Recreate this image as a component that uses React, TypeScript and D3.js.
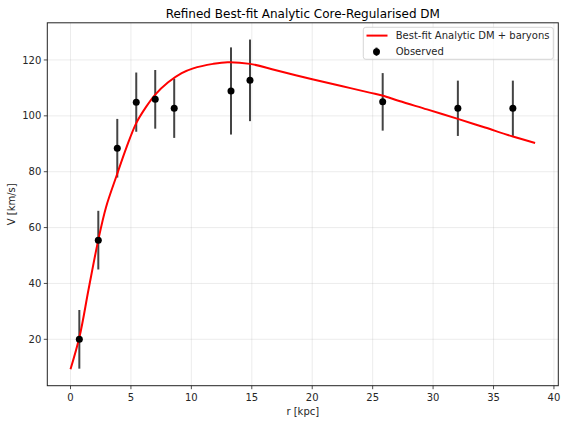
import React from "react";
import * as d3 from "d3";

const obsR = [0.73, 2.3, 3.87, 5.44, 7.01, 8.58, 13.28, 14.85, 25.83, 32.05, 36.6];
const obsV = [20.0, 55.5, 88.4, 104.9, 105.9, 102.7, 108.9, 112.7, 105.0, 102.7, 102.7];
const obsErr = [10.5, 10.5, 10.5, 10.6, 10.5, 10.6, 15.6, 14.6, 10.3, 9.9, 9.9];

const fitR = [0, 0.75, 1.5, 2.3, 2.94, 3.84, 4.64, 5.44, 6.24, 7.01, 8.08, 9.2, 10.15, 11.8, 13.0, 14.85, 17, 20, 22.5, 24.75, 25.8, 27.2, 29.5, 32.05, 34.3, 36.6, 38.44];
const fitV = [9.3, 21.0, 38.0, 55.6, 67.3, 78.9, 88.8, 97.4, 103.1, 107.6, 112.0, 115.3, 117.0, 118.6, 119.2, 118.6, 116.3, 113.1, 110.6, 108.3, 107.3, 105.3, 102.3, 98.9, 95.8, 92.6, 90.3];

const xTicks = [0, 5, 10, 15, 20, 25, 30, 35, 40];
const yTicks = [20, 40, 60, 80, 100, 120];

const W = 568, H = 424;
const L = 47.3, R = 558.3, T = 22.8, B = 385.7;
const FONT = "DejaVu Sans, sans-serif";

export default function App() {
  const x = d3.scaleLinear().domain([-1.92, 40.36]).range([L, R]);
  const y = d3.scaleLinear().domain([3.4, 133.3]).range([B, T]);
  const line = d3
    .line<number>()
    .x((_, i) => x(fitR[i]))
    .y((d) => y(d))
    .curve(d3.curveCatmullRom.alpha(0.5));
  const txt = "#262626";
  return (
    <svg width={W} height={H} style={{ position: "absolute", left: 0, top: 0, background: "#fff" }} fontFamily={FONT}>
      <rect x={0} y={0} width={W} height={H} fill="#fff" />
      <text x={(L + R) / 2} y={18} textAnchor="middle" fontSize={12} fill="#000">
        Refined Best-fit Analytic Core-Regularised DM
      </text>
      {/* grid */}
      {xTicks.map((t) => (
        <line key={"gx" + t} x1={x(t)} x2={x(t)} y1={T} y2={B} stroke="#b0b0b0" strokeOpacity={0.3} strokeWidth={0.8} />
      ))}
      {yTicks.map((t) => (
        <line key={"gy" + t} x1={L} x2={R} y1={y(t)} y2={y(t)} stroke="#b0b0b0" strokeOpacity={0.3} strokeWidth={0.8} />
      ))}
      {/* error bars */}
      {obsR.map((r, i) => (
        <line key={"e" + i} x1={x(r)} x2={x(r)} y1={y(obsV[i] - obsErr[i])} y2={y(obsV[i] + obsErr[i])} stroke="#444" strokeWidth={2} />
      ))}
      {/* fit line */}
      <path d={line(fitV) || ""} fill="none" stroke="#ff0000" strokeWidth={2} />
      {/* points */}
      {obsR.map((r, i) => (
        <circle key={"p" + i} cx={x(r)} cy={y(obsV[i])} r={3.5} fill="#000" />
      ))}
      {/* spines */}
      <rect x={L} y={T} width={R - L} height={B - T} fill="none" stroke="#222" strokeWidth={1} />
      {/* ticks */}
      {xTicks.map((t) => (
        <g key={"tx" + t}>
          <line x1={x(t)} x2={x(t)} y1={B} y2={B + 3.5} stroke="#222" strokeWidth={0.8} />
          <text x={x(t)} y={B + 15} textAnchor="middle" fontSize={10} fill={txt}>
            {t}
          </text>
        </g>
      ))}
      {yTicks.map((t) => (
        <g key={"ty" + t}>
          <line x1={L - 3.5} x2={L} y1={y(t)} y2={y(t)} stroke="#222" strokeWidth={0.8} />
          <text x={L - 6} y={y(t) + 3.6} textAnchor="end" fontSize={10} fill={txt}>
            {t}
          </text>
        </g>
      ))}
      <text x={(L + R) / 2} y={415} textAnchor="middle" fontSize={10} fill={txt}>
        r [kpc]
      </text>
      <text transform={`translate(15,${(T + B) / 2}) rotate(-90)`} textAnchor="middle" fontSize={10} fill={txt}>
        V [km/s]
      </text>
      {/* legend */}
      <g>
        <rect x={363.3} y={27.3} width={190} height={32} rx={2.5} fill="#fff" fillOpacity={0.8} stroke="#ccc" strokeWidth={0.8} />
        <line x1={366.5} x2={387.5} y1={35.6} y2={35.6} stroke="#ff0000" strokeWidth={2} />
        <text x={395.7} y={39.2} fontSize={10} fill={txt}>Best-fit Analytic DM + baryons</text>
        <line x1={376.5} x2={376.5} y1={47.5} y2={56} stroke="#444" strokeWidth={2} />
        <circle cx={376.5} cy={51.8} r={3.5} fill="#000" />
        <text x={395.7} y={55.4} fontSize={10} fill={txt}>Observed</text>
      </g>
    </svg>
  );
}
